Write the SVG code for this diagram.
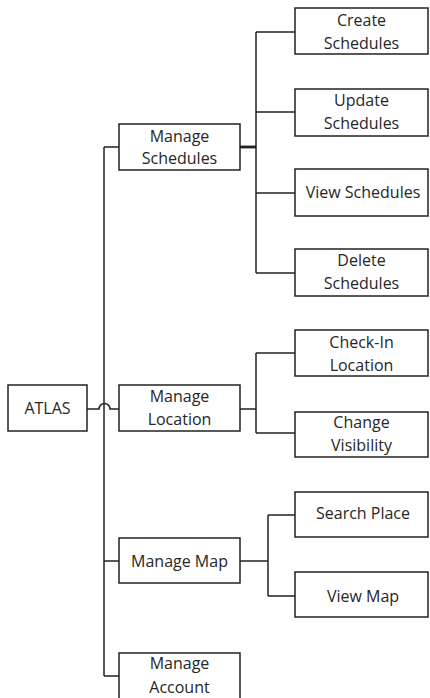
<svg xmlns="http://www.w3.org/2000/svg" width="430" height="698" viewBox="0 0 430 698">
<style>
.box{fill:#fff;stroke:#222;stroke-width:1.5}
.ln{fill:none;stroke:#222;stroke-width:1.5}
text{font-family:"Open Sans","Liberation Sans",sans-serif;font-size:16px;fill:#262626;text-anchor:middle}
</style>
<rect width="430" height="698" fill="#fff"/>
<g id="connectors">
<path class="ln" d="M87,409 H99 A5.5,5.5 0 0 1 110,409 H119"/>
<path class="ln" d="M104,147 V676"/>
<path class="ln" d="M104,147 H119 M104,561 H119 M104,676 H119"/>
<path class="ln" d="M240,147 H256" style="stroke-width:2.8"/>
<path class="ln" d="M256,32 V273 M256,32 H295 M256,112 H295 M256,193 H295 M256,273 H295"/>
<path class="ln" d="M240,409 H256 M256,353 V433 M256,353 H295 M256,433 H295"/>
<path class="ln" d="M240,561 H268 M268,515 V596 M268,515 H295 M268,596 H295"/>
</g>
<g id="atlas"><rect class="box" x="8" y="385" width="79" height="46"/><text x="47.5" y="414">ATLAS</text></g>
<g id="manage-schedules"><rect class="box" x="119" y="124" width="121" height="46"/><text x="179.5" y="142">Manage</text><text x="179.5" y="164">Schedules</text></g>
<g id="manage-location"><rect class="box" x="119" y="385" width="121" height="46"/><text x="179.5" y="402">Manage</text><text x="179.5" y="425">Location</text></g>
<g id="manage-map"><rect class="box" x="119" y="538" width="121" height="45"/><text x="179.5" y="567">Manage Map</text></g>
<g id="manage-account"><rect class="box" x="119" y="653" width="121" height="46"/><text x="179.5" y="669">Manage</text><text x="179.5" y="693">Account</text></g>
<g id="create-schedules"><rect class="box" x="295" y="8" width="133" height="46"/><text x="361.5" y="26">Create</text><text x="361.5" y="49">Schedules</text></g>
<g id="update-schedules"><rect class="box" x="295" y="89" width="133" height="47"/><text x="361.5" y="106">Update</text><text x="361.5" y="129">Schedules</text></g>
<g id="view-schedules"><rect class="box" x="295" y="169" width="133" height="47"/><text x="363" y="198">View Schedules</text></g>
<g id="delete-schedules"><rect class="box" x="295" y="249" width="133" height="47"/><text x="361.5" y="266">Delete</text><text x="361.5" y="289">Schedules</text></g>
<g id="check-in-location"><rect class="box" x="295" y="330" width="133" height="46"/><text x="361.5" y="348">Check-In</text><text x="361.5" y="371">Location</text></g>
<g id="change-visibility"><rect class="box" x="295" y="412" width="133" height="45"/><text x="361.5" y="428">Change</text><text x="361.5" y="451">Visibility</text></g>
<g id="search-place"><rect class="box" x="295" y="492" width="133" height="45"/><text x="363" y="519">Search Place</text></g>
<g id="view-map"><rect class="box" x="295" y="572" width="133" height="45"/><text x="363" y="602">View Map</text></g>
</svg>
